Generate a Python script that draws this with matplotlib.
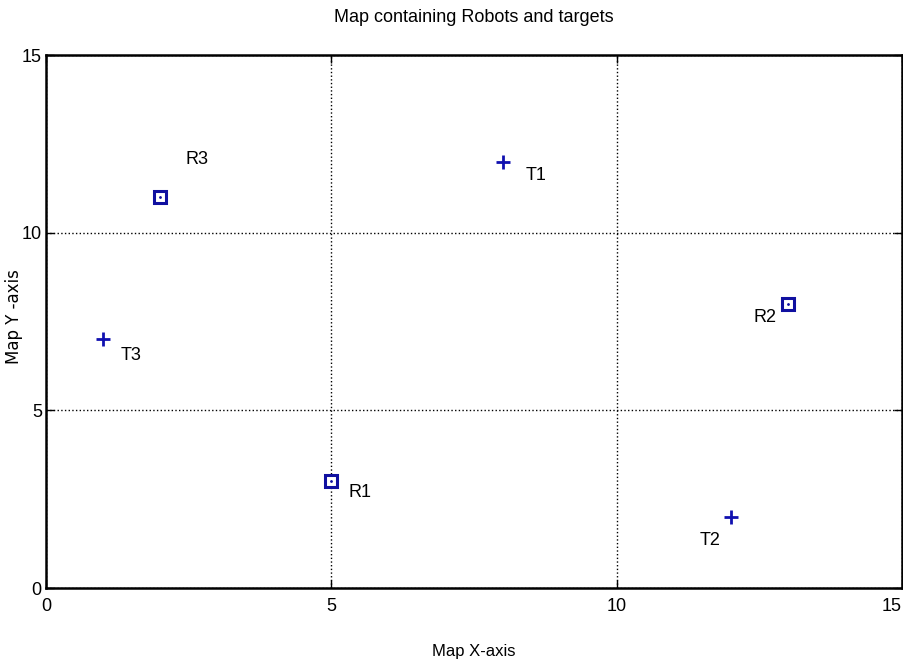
import matplotlib
matplotlib.use("Agg")
import matplotlib.pyplot as plt

robot_names = ["R1", "R2", "R3"]
robot_x = [5, 13, 2]
robot_y = [3, 8, 11]
target_names = ["T1", "T2", "T3"]
target_x = [8, 12, 1]
target_y = [12, 2, 7]
robot_label_offsets = [(0.3, -0.3), (-0.6, -0.4), (0.45, 1.05)]
target_label_offsets = [(0.4, -0.4), (-0.55, -0.65), (0.3, -0.45)]
ticks = [0, 5, 10, 15]

font = ["Liberation Sans", "DejaVu Sans"]

fig = plt.figure(figsize=(9.04, 6.67), dpi=100)
ax = fig.add_axes([0.0509, 0.1184, 0.9469, 0.7991])
ax.set_xlim(0, 15)
ax.set_ylim(0, 15)

ax.plot(robot_x, robot_y, linestyle="none", marker="s", markersize=8,
        markerfacecolor="white", markeredgecolor="#1010a0", markeredgewidth=2.2)
ax.plot(robot_x, robot_y, linestyle="none", marker=".", markersize=2, color="#1010a0")
ax.plot(target_x, target_y, linestyle="none", marker="+", markersize=10,
        markeredgewidth=2, color="#1010b0")

for n, x, y, (dx, dy) in zip(robot_names, robot_x, robot_y, robot_label_offsets):
    ax.text(x + dx, y + dy, n, fontsize=13, family=font, ha="left", va="center")
for n, x, y, (dx, dy) in zip(target_names, target_x, target_y, target_label_offsets):
    ax.text(x + dx, y + dy, n, fontsize=13, family=font, ha="left", va="center")

ax.set_xticks(ticks)
ax.set_yticks(ticks)
ax.set_xticklabels([str(t) for t in ticks], fontsize=13, family=font)
ax.set_yticklabels([str(t) for t in ticks], fontsize=13, family=font)
ax.get_xticklabels()[-1].set_horizontalalignment("right")
ax.tick_params(direction="in", length=6, width=1, top=True, right=True, pad=7)
ax.tick_params(axis="y", pad=3)
ax.grid(True, linestyle=":", color="black", linewidth=1)
for s in ax.spines.values():
    s.set_linewidth(1.8)

ax.set_title("Map containing Robots and targets", fontsize=13, family=font, pad=24)
ax.set_xlabel("Map X-axis", fontsize=12, family=font)
ax.xaxis.set_label_coords(0.5, -0.105)
ax.set_ylabel("Map Y -axis", fontsize=12, family="DejaVu Sans")
ax.yaxis.set_label_coords(-0.027, 0.51)

fig.savefig("out.png", dpi=100)
